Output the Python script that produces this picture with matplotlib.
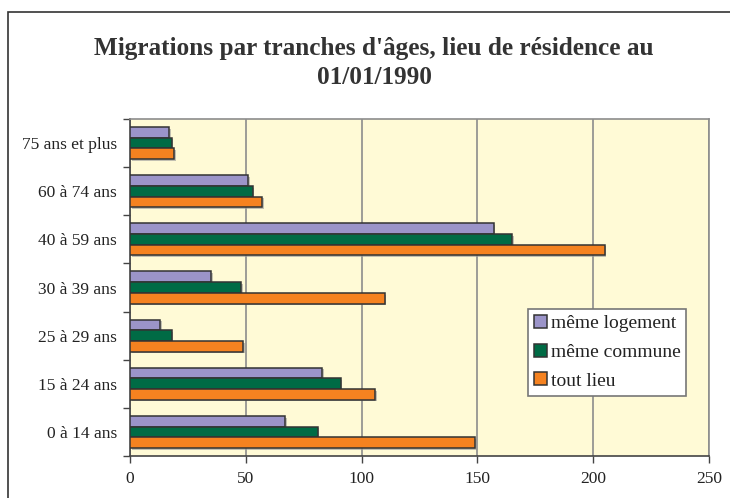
import matplotlib
matplotlib.use("Agg")
import matplotlib.pyplot as plt
import matplotlib.patheffects as pe
from matplotlib.patches import Rectangle
import numpy as np

categories = ["0 à 14 ans", "15 à 24 ans", "25 à 29 ans", "30 à 39 ans",
              "40 à 59 ans", "60 à 74 ans", "75 ans et plus"]
meme_logement = [67, 83, 13, 35, 157, 51, 17]
meme_commune = [81, 91, 18, 48, 165, 53, 18]
tout_lieu = [149, 106, 49, 110, 205, 57, 19]
series_names = ["même logement", "même commune", "tout lieu"]
x_ticks = [0, 50, 100, 150, 200, 250]
title = "Migrations par tranches d'âges, lieu de résidence au\n01/01/1990"

colors = ["#9b94c9", "#006b45", "#f58220"]
bg = "#fffad6"
edge = "#333333"

plt.rcParams['font.family'] = ['Liberation Serif', 'DejaVu Serif']

fig = plt.figure(figsize=(7.3, 4.98), dpi=100)
ax = fig.add_axes([130/730, 1-456/498, 579/730, 337/498])
ax.set_facecolor(bg)

y = np.arange(len(categories))
h = 0.222
shadow = [pe.SimplePatchShadow(offset=(1.2, -1.2), shadow_rgbFace="#999999", alpha=0.6), pe.Normal()]
for vals, off, c, name in zip([meme_logement, meme_commune, tout_lieu], [h, 0, -h], colors, series_names):
    bars = ax.barh(y + off, vals, height=h, color=c, edgecolor=edge, linewidth=1.1, label=name, zorder=3)
    for b in bars:
        b.set_path_effects(shadow)

ax.set_xlim(0, 250)
ax.set_ylim(-0.5, len(categories) - 0.5)
ax.set_xticks(x_ticks)
ax.set_xticklabels([str(t) for t in x_ticks], fontsize=12.5, color="#222222")
ax.set_yticks(y)
ax.set_yticklabels(categories, fontsize=12.5, color="#222222")
ax.set_yticks(np.arange(-0.5, len(categories), 1), minor=True)
ax.tick_params(axis='y', which='major', length=0, pad=9.5)
ax.tick_params(axis='y', which='minor', length=5, width=1, color="#444444", direction='out')
ax.tick_params(axis='x', which='major', length=5, width=1, color="#444444", direction='out', pad=6)

ax.xaxis.grid(True, color="#8c8c8c", linewidth=1.2, zorder=1)
ax.set_axisbelow(True)
for s in ['top', 'right']:
    ax.spines[s].set_color("#8c8c8c")
    ax.spines[s].set_linewidth(1.2)
for s in ['left', 'bottom']:
    ax.spines[s].set_color("#444444")
    ax.spines[s].set_linewidth(1.2)

handles, labels = ax.get_legend_handles_labels()
leg = ax.legend(handles, labels, loc='upper left', bbox_to_anchor=(0.687, (456-309)/337),
                fontsize=14, frameon=True, fancybox=False, edgecolor="#777777",
                framealpha=1, handlelength=0.67, handleheight=0.67, handletextpad=0.2,
                labelspacing=0.58, borderpad=0.3, borderaxespad=0)
leg.get_frame().set_linewidth(1.2)
for t in leg.get_texts():
    t.set_color("#222222")
for p in leg.get_patches():
    p.set_path_effects([])

fig.text(374/730, 1-63/498, title, ha='center', va='center', fontsize=18.2,
         fontweight='bold', color="#333333", linespacing=1.38)

fig.patches.append(Rectangle((8/730, -0.1), 1.2, 1-12/498+0.1, transform=fig.transFigure,
                             fill=False, edgecolor="#333333", linewidth=1.2))

fig.savefig("out.png", dpi=100, facecolor="white")
